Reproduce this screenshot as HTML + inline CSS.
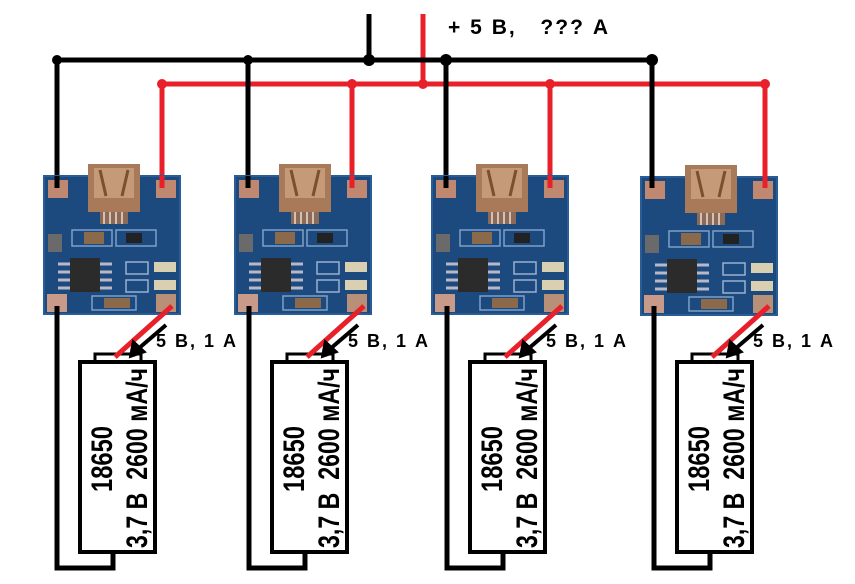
<!DOCTYPE html>
<html><head><meta charset="utf-8"><style>
html,body{margin:0;padding:0;background:#fff;}
svg{display:block;}
text{font-family:"Liberation Sans",sans-serif;}
</style></head><body>
<svg width="855" height="584" viewBox="0 0 855 584" xmlns="http://www.w3.org/2000/svg">
<defs>
<g id="mod">
  <rect x="0" y="0" width="136" height="138" fill="#1d4a7e"/>
  <rect x="0" y="0" width="136" height="138" fill="none" stroke="#2a5d96" stroke-width="2"/>
  <rect x="4" y="4" width="20" height="18" fill="#c08870"/>
  <rect x="112" y="4" width="20" height="18" fill="#c08870"/>
  <rect x="3" y="118" width="20" height="18" fill="#c89a8a"/>
  <rect x="112" y="118" width="20" height="18" fill="#b89078"/>
  <rect x="44" y="-12" width="52" height="48" fill="#a87a5a"/>
  <rect x="50" y="-8" width="40" height="30" fill="#c59a78"/>
  <path d="M56 -6 L62 20 M84 -6 L78 20" stroke="#7a5030" stroke-width="3"/>
  <rect x="56" y="36" width="28" height="12" fill="#8a6a58"/>
  <path d="M60 36v12M66 36v12M72 36v12M78 36v12" stroke="#d8c0b0" stroke-width="2"/>
  <rect x="28" y="54" width="40" height="16" fill="none" stroke="#7fa0c8" stroke-width="1.5"/>
  <rect x="40" y="56" width="20" height="12" fill="#8a6a4a"/>
  <rect x="72" y="54" width="40" height="16" fill="none" stroke="#7fa0c8" stroke-width="1.5"/>
  <rect x="82" y="57" width="16" height="10" fill="#222"/>
  <rect x="4" y="58" width="14" height="18" fill="#6a6a6a"/>
  <rect x="26" y="82" width="30" height="34" fill="#2b2b2b"/>
  <path d="M14 88h12M14 96h12M14 104h12M14 112h12M56 88h12M56 96h12M56 104h12M56 112h12" stroke="#b8b8c8" stroke-width="3"/>
  <rect x="82" y="86" width="22" height="12" fill="none" stroke="#9ab0d0" stroke-width="1.5"/>
  <rect x="82" y="104" width="22" height="12" fill="none" stroke="#9ab0d0" stroke-width="1.5"/>
  <rect x="110" y="86" width="22" height="10" fill="#d8d0b0"/>
  <rect x="110" y="104" width="22" height="10" fill="#d8d0b0"/>
  <rect x="48" y="120" width="44" height="14" fill="none" stroke="#7fa0c8" stroke-width="1.5"/>
  <rect x="60" y="122" width="26" height="10" fill="#8a6a4a"/>
</g>
<g id="bat">
  <rect x="15" y="-6" width="46" height="8" fill="#fff" stroke="#000" stroke-width="3"/>
  <rect x="0" y="2" width="75" height="190" fill="#fff" stroke="#000" stroke-width="4"/>
</g>
</defs>

<path d="M369 14V60" stroke="#000" stroke-width="5"/>
<path d="M423 14V84" stroke="#e8202a" stroke-width="5"/>
<path d="M55 60H656" stroke="#000" stroke-width="5"/>
<path d="M160 84H767" stroke="#e8202a" stroke-width="5"/>
<g fill="#e8202a"><circle cx="162" cy="84" r="5"/><circle cx="352" cy="84" r="5"/><circle cx="423" cy="84" r="5"/><circle cx="550" cy="84" r="5"/><circle cx="765" cy="84" r="5"/></g>
<path d="M57 60V190M248 60V190M446 60V190M652 60V190" stroke="#000" stroke-width="5"/>
<path d="M162 84V190M352 84V190M550 84V190M765 84V190" stroke="#e8202a" stroke-width="5"/>
<g fill="#000"><circle cx="57" cy="60" r="5"/><circle cx="248" cy="60" r="5"/><circle cx="369" cy="60" r="6"/><circle cx="446" cy="60" r="6"/><circle cx="652" cy="60" r="6"/></g>
<text x="448" y="34" font-size="21" font-weight="bold" textLength="160" lengthAdjust="spacing" xml:space="preserve">+ 5 В,   ??? А</text>

<use href="#mod" x="44" y="176"/>
<use href="#mod" x="235" y="176"/>
<use href="#mod" x="432" y="176"/>
<use href="#mod" x="641" y="177"/>
<g stroke="#000" stroke-width="5" fill="none"><path d="M57 176V188M248 176V188M446 176V188M652 176V188"/></g>
<g stroke="#e8202a" stroke-width="5" fill="none"><path d="M162 176V188M352 176V188M550 176V188M765 176V188"/></g>

<g id="u1">
<path d="M57 306V568H113V553" stroke="#000" stroke-width="5" fill="none"/>
<use href="#bat" x="80" y="360"/>
<path d="M172 306L115 357" stroke="#e8202a" stroke-width="5"/>
<path d="M166 325L138 349" stroke="#000" stroke-width="4"/>
<path d="M130 357L133 341L145 352Z" fill="#000" stroke="#000" stroke-width="2"/>
<text x="156" y="347" font-size="18" font-weight="bold" textLength="80" lengthAdjust="spacing">5 В, 1 А</text>
<text transform="translate(112,492) rotate(-90)" font-size="30" font-weight="bold" textLength="66" lengthAdjust="spacingAndGlyphs">18650</text>
<text transform="translate(147,548) rotate(-90)" font-size="30" font-weight="bold" textLength="180" lengthAdjust="spacingAndGlyphs" xml:space="preserve">3,7 В  2600 мА/ч</text>
</g>
<use href="#u1" x="192" y="0"/>
<use href="#u1" x="390" y="0"/>
<use href="#u1" x="597" y="0"/>
</svg>
</body></html>
